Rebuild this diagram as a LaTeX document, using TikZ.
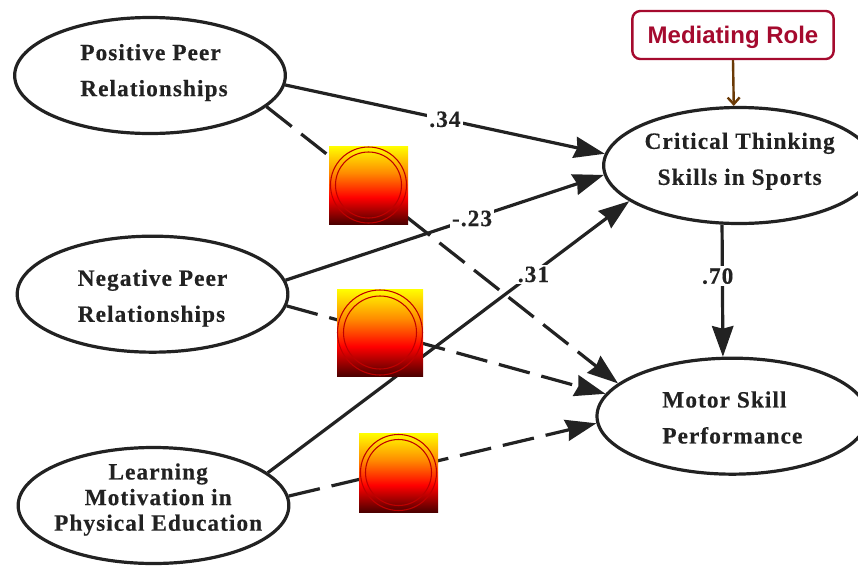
\documentclass[tikz,border=0pt]{standalone}
\usepackage{fontspec}
\usetikzlibrary{arrows.meta,shapes.geometric}
\setmainfont{Liberation Serif}
\newfontfamily\boxfont{Liberation Sans}[Scale=1]
\newfontfamily\paperfont{Liberation Serif}[LetterSpace=4.5,BoldFeatures={FakeBold=0.35}]
\definecolor{boxred}{HTML}{A50A2E}
\definecolor{arrowbrown}{HTML}{6B3A06}
\definecolor{inkblack}{HTML}{222222}
\pgfdeclareverticalshading{sunfade}{100bp}{color(0bp)=(black!70!red);color(25bp)=(black!70!red);color(42bp)=(red);color(58bp)=(orange!90!yellow);color(75bp)=(yellow);color(100bp)=(yellow)}

\begin{document}
\begin{tikzpicture}[x=0.75pt,y=-0.75pt,->,>={Stealth[length=23pt,width=16pt,inset=2pt]},line width=2.4pt,draw=inkblack,
    main node/.style={ellipse,draw=inkblack,-,minimum width=203pt,minimum height=87pt,inner sep=0pt},
    words/.style={align=left,inner sep=0pt,text=inkblack,font=\paperfont\fontsize{17.5}{27}\bfseries},
    small lines/.style={words,align=center,font=\paperfont\fontsize{17.5}{19.2}\bfseries},
    value/.style={fill=white,inner sep=1.5pt,text=inkblack,font=\paperfont\fontsize{17.5}{17}\bfseries},
    skipped/.style={dash pattern=on 24pt off 9pt},
    badge/.style={rectangle,-,draw=none,shading=sunfade,inner sep=0pt},
    ring/.style={-,draw=red!75!black,line width=0.8pt}]

            \path[use as bounding box,clip] (0,0) rectangle (858,565);

            \node[main node,label={[words,xshift=3pt,yshift=2.2pt]center:Positive Peer\\Relationships}] (1) at (150,75.5) {};
            \node[main node,label={[words,yshift=-3pt]center:Negative Peer\\Relationships}] (2) [below of = 1,node distance=164pt,xshift=1.9pt] {};
            \node[main node,label={[small lines,xshift=3.5pt,yshift=4.5pt]center:Learning\\Motivation in\\Physical Education}] (3) at (153.5,505.5) {};
            \node[main node,label={[words,align=center,xshift=0.5pt,yshift=3.2pt]center:Critical Thinking\\Skills in Sports}] (4) at (739,165.5) {};
            \node[main node,label={[words,yshift=-1pt]center:Motor Skill\\Performance}] (5) [below of = 4,node distance=188pt,xshift=-5pt] {};

            \node[rectangle,-,rounded corners=6pt,draw=boxred,fill=white,line width=1.8pt,minimum width=151pt,minimum height=36pt,text height=13pt,text depth=1pt,text=boxred,font=\boxfont\fontsize{18}{20}\bfseries] (role) at (733,35) {Mediating Role};

            \path
                (1.-4) edge node[value,pos=.5] {.34} (4.175.4)
                (2.6) edge node[value,pos=.586] {-.23} (4.184.5)
                (3.16) edge node[value,pos=.735,yshift=-1pt] {.31} (4.198.5)
                (4.254.5) edge node[value,pos=.39,xshift=-3.5pt] {.70} (5.99.8)
                (1.-15.6) edge[skipped] (5.164.2)
                (2.-5.5) edge[skipped] (5.170.7)
                (3.4.9) edge[skipped] (5.183.8)
            ;
            \draw[->,>={Straight Barb[length=5pt,width=9pt]},draw=arrowbrown,line width=1.8pt] (role.south) -- (4.95);

            \node[badge,minimum width=59.25pt,minimum height=58.5pt] (a) at (368.5,185) {};
            \node[badge,minimum width=64.5pt,minimum height=65.25pt] (b) at (380,332.5) {};
            \node[badge,minimum width=59.25pt,minimum height=59.25pt] (c) at (398.5,472.5) {};

            \draw[ring] (a) circle (38);
            \draw[ring] (a) circle (33);
            \draw[ring] (b) circle (42.5);
            \draw[ring] (b) circle (36.5);
            \draw[ring] (c) circle (38);
            \draw[ring] (c) circle (33);
        \end{tikzpicture}
\end{document}
